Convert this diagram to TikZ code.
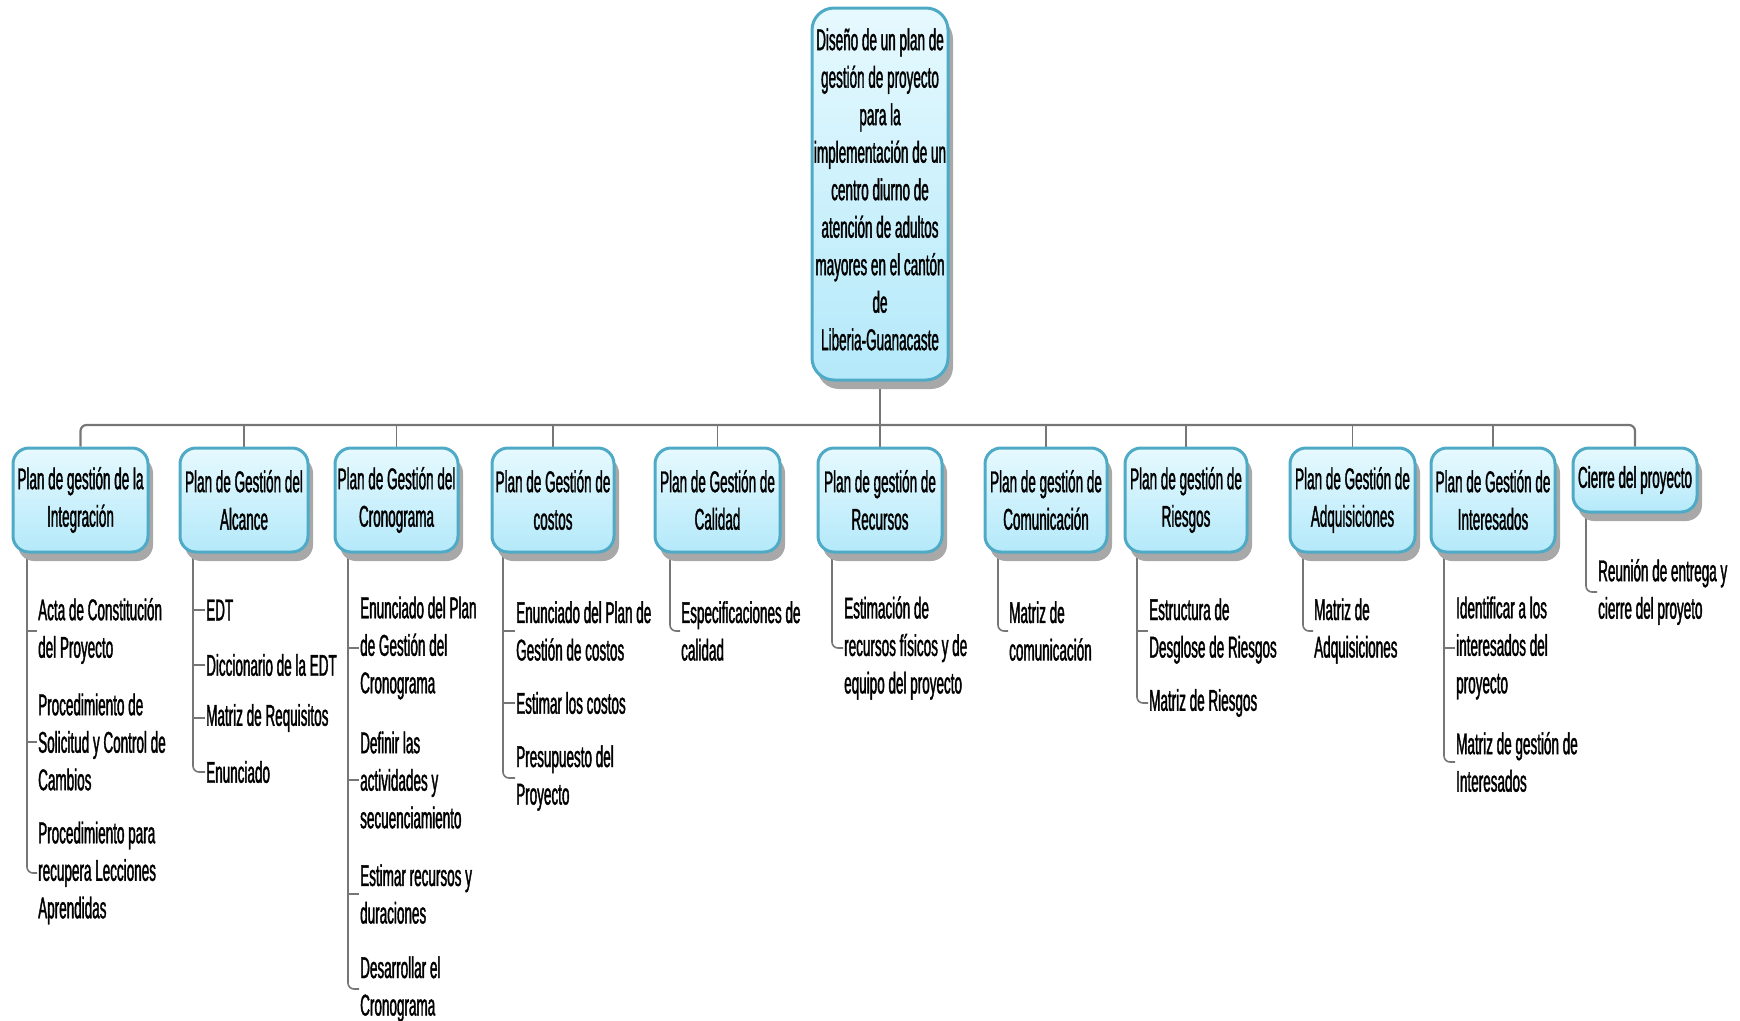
\documentclass[tikz,border=0pt]{standalone}
\usepackage{fontspec}
\setmainfont{Liberation Sans}[FakeStretch=0.45, FakeBold=1.2]
\usetikzlibrary{shadows,backgrounds}
\definecolor{boxtop}{HTML}{E6F9FE}
\definecolor{boxbot}{HTML}{B4E9FA}
\definecolor{boxline}{HTML}{4FAAC6}
\definecolor{shadowc}{HTML}{A8A8A8}
\definecolor{linec}{HTML}{767676}
\begin{document}
\begin{tikzpicture}[x=1pt,y=-1pt,
  font=\fontsize{30}{37.5}\selectfont,
  box/.style={draw=boxline, line width=3pt, rounded corners=16pt,
    top color=boxtop, bottom color=boxbot, align=center, inner sep=0pt,
    minimum height=104pt,
    drop shadow={shadow xshift=5pt, shadow yshift=-9pt, fill=shadowc, opacity=1}},
  item/.style={anchor=west, align=left, inner xsep=1pt, inner ysep=0pt},
  conn/.style={draw=linec, line width=1.6pt},
  bus/.style={draw=linec, line width=2.2pt}]
\useasboundingbox (0,0) rectangle (1740,1020);

% root
\node[box, minimum width=136pt, minimum height=372pt, rounded corners=22pt] (root) at (880,194)
  {Diseño de un plan de\\gestión de proyecto\\para la\\implementación de un\\centro diurno de\\atención de adultos\\mayores en el cantón\\de\\Liberia-Guanacaste\\[-28pt]\mbox{}};

\coordinate (bus) at (880,425);

% level 1
\node[box, minimum width=135pt] (c1) at (80.5,500) {Plan de gestión de la\\Integración};
\node[box, minimum width=128pt] (c2) at (244,500) {Plan de Gestión del\\Alcance};
\node[box, minimum width=123pt] (c3) at (396.5,500) {Plan de Gestión del\\Cronograma};
\node[box, minimum width=122pt] (c4) at (553,500) {Plan de Gestión de\\costos};
\node[box, minimum width=125pt] (c5) at (717.5,500) {Plan de Gestión de\\Calidad};
\node[box, minimum width=124pt] (c6) at (880,500) {Plan de gestión de\\Recursos};
\node[box, minimum width=122pt] (c7) at (1046,500) {Plan de gestión de\\Comunicación};
\node[box, minimum width=122pt] (c8) at (1186,500) {Plan de gestión de\\Riesgos};
\node[box, minimum width=125pt] (c9) at (1352.5,500) {Plan de Gestión de\\Adquisiciones};
\node[box, minimum width=124pt] (c10) at (1493,500) {Plan de Gestión de\\Interesados};
\node[box, minimum width=124pt, minimum height=64pt] (c11) at (1635,480) {Cierre del proyecto};

% leaves
\node[item] (a1) at (37,631) {Acta de Constitución\\del Proyecto};
\node[item] (a2) at (37,742) {Procedimiento de\\Solicitud y Control de\\Cambios};
\node[item] (a3) at (37,873) {Procedimiento para\\recupera Lecciones\\Aprendidas};

\node[item] (b1) at (205,610) {EDT};
\node[item] (b2) at (205,665) {Diccionario de la EDT};
\node[item] (b3) at (205,718) {Matriz de Requisitos};
\node[item] (b4) at (205,772) {Enunciado};

\node[item] (d1) at (359,648) {Enunciado del Plan\\de Gestión del\\Cronograma};
\node[item] (d2) at (359,780) {Definir las\\actividades y\\secuenciamiento};
\node[item] (d3) at (359,894) {Estimar recursos y\\duraciones};
\node[item] (d4) at (359,989) {Desarrollar el\\Cronograma};

\node[item] (e1) at (515,631) {Enunciado del Plan de\\Gestión de costos};
\node[item] (e2) at (515,703) {Estimar los costos};
\node[item] (e3) at (515,778) {Presupuesto del\\Proyecto};

\node[item] (f1) at (680,631) {Especificaciones de\\calidad};

\node[item] (g1) at (843,648) {Estimación de\\recursos físicos y de\\equipo del proyecto};

\node[item] (h1) at (1008,631) {Matriz de\\comunicación};

\node[item] (i1) at (1148,631) {Estructura de\\Desglose de Riesgos};
\node[item] (i2) at (1148,703) {Matriz de Riesgos};

\node[item] (j1) at (1313,631) {Matriz de\\Adquisiciones};

\node[item] (k1) at (1455,648) {Identificar a los\\interesados del\\proyecto};
\node[item] (k2) at (1455,762) {Matriz de gestión de\\Interesados};

\node[item] (l1) at (1597,592) {Reunión de entrega y\\cierre del proyeto};

% spine x coordinates
\coordinate (sa) at (27,0);
\coordinate (sb) at (193,0);
\coordinate (sd) at (348,0);
\coordinate (se) at (503,0);
\coordinate (sf) at (670,0);
\coordinate (sg) at (832,0);
\coordinate (sh) at (998,0);
\coordinate (si) at (1137,0);
\coordinate (sj) at (1303,0);
\coordinate (sk) at (1444,0);
\coordinate (sl) at (1586,0);

\begin{scope}[on background layer]
  % bus
  \draw[conn] (root.south) -- (root.south |- bus);
  \draw[bus, rounded corners=6pt] (c1.north) -- (c1.north |- bus) -- (c11.north |- bus) -- (c11.north);
  \foreach \c in {c2,c3,c4,c5,c6,c7,c8,c9,c10}
    \draw[conn] (\c.north) -- (\c.north |- bus);

  % spines
  \draw[conn, rounded corners=6pt] (sa |- c1.south) |- (a3.west);
  \draw[conn] (sa |- a1.west) -- (a1.west);
  \draw[conn] (sa |- a2.west) -- (a2.west);

  \draw[conn, rounded corners=6pt] (sb |- c2.south) |- (b4.west);
  \foreach \n in {b1,b2,b3} \draw[conn] (sb |- \n.west) -- (\n.west);

  \draw[conn, rounded corners=6pt] (sd |- c3.south) |- (d4.west);
  \foreach \n in {d1,d2,d3} \draw[conn] (sd |- \n.west) -- (\n.west);

  \draw[conn, rounded corners=6pt] (se |- c4.south) |- (e3.west);
  \foreach \n in {e1,e2} \draw[conn] (se |- \n.west) -- (\n.west);

  \draw[conn, rounded corners=6pt] (sf |- c5.south) |- (f1.west);
  \draw[conn, rounded corners=6pt] (sg |- c6.south) |- (g1.west);
  \draw[conn, rounded corners=6pt] (sh |- c7.south) |- (h1.west);

  \draw[conn, rounded corners=6pt] (si |- c8.south) |- (i2.west);
  \draw[conn] (si |- i1.west) -- (i1.west);

  \draw[conn, rounded corners=6pt] (sj |- c9.south) |- (j1.west);

  \draw[conn, rounded corners=6pt] (sk |- c10.south) |- (k2.west);
  \draw[conn] (sk |- k1.west) -- (k1.west);

  \draw[conn, rounded corners=6pt] (sl |- c11.south) |- (l1.west);
\end{scope}
\end{tikzpicture}
\end{document}
